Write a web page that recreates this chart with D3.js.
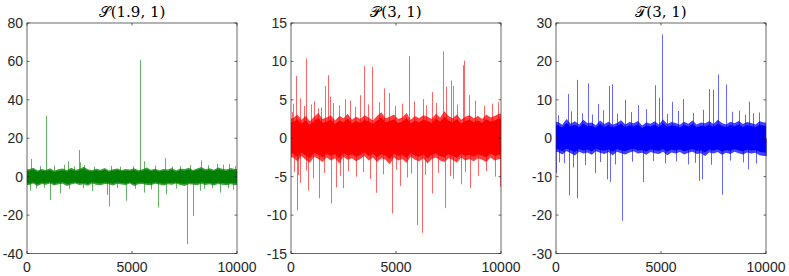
<!DOCTYPE html>
<meta charset="utf-8">
<head>
<style>
  body { margin: 0; background: #fff; }
  svg text { font-family: "Liberation Sans", Arial, sans-serif; }
</style>
</head>
<body>
<div id="chart"></div>
<script src="https://d3js.org/d3.v7.min.js"></script>
<script>
    // chart data
    let xTicks = [0, 5000, 10000];
    let xTickLabels = ['0', '5000', '10000'];
    let numSamples = 10000;

    let titles = ['\u{1D4AE}(1.9, 1)', '\u{1D4AB}(3, 1)', '\u{1D4AF}(3, 1)'];
    let colors = ['#007f00', '#ff0000', '#0000ff'];
    let yDomains = [[-40, 80], [-15, 15], [-30, 30]];
    let yTicks = [
        [-40, -20, 0, 20, 40, 60, 80],
        [-15, -10, -5, 0, 5, 10, 15],
        [-30, -20, -10, 0, 10, 20, 30]
    ];
    let yTickLabels = [
        ['-40', '-20', '0', '20', '40', '60', '80'],
        ['-15', '-10', '-5', '0', '5', '10', '15'],
        ['-30', '-20', '-10', '0', '10', '20', '30']
    ];

    // dense core of each series: upper / lower envelope, one value per 200 samples
    let p1Hi = [3.8,4.6,3.2,4.0,3.5,4.4,3.1,3.9,4.2,3.4,4.7,3.6,4.0,5.2,3.9,3.3,4.1,3.6,4.5,3.2,3.8,4.3,3.5,4.0,3.7,4.4,3.3,3.9,4.8,3.6,4.1,3.4,4.0,3.7,4.5,3.2,4.2,3.8,4.6,3.5,4.3,5.0,3.9,4.4,3.6,4.8,4.1,3.7,4.5,4.0];
    let p1Lo = [-4.4,-3.6,-4.9,-3.8,-4.2,-3.5,-4.6,-4.0,-3.7,-4.8,-4.1,-3.6,-4.3,-3.9,-4.7,-3.5,-4.2,-4.5,-3.8,-4.0,-4.6,-3.7,-4.1,-4.4,-3.6,-4.9,-4.0,-3.8,-4.3,-4.5,-3.7,-4.1,-4.6,-3.9,-4.2,-3.6,-4.4,-4.8,-3.9,-4.1,-4.5,-3.7,-4.3,-4.0,-4.6,-3.8,-4.2,-4.5,-3.9,-4.3];
    let p2Hi = [2.6,3.1,2.4,2.9,2.2,2.8,3.3,2.5,2.7,3.0,2.3,2.9,2.6,3.2,2.4,2.8,2.5,3.0,2.7,2.3,2.9,3.4,2.6,2.8,3.1,2.5,2.7,3.3,2.4,2.9,2.6,3.0,2.8,2.5,3.2,2.7,3.5,2.9,2.6,3.1,2.4,2.8,3.0,2.6,2.9,2.5,3.1,2.7,2.9,3.2];
    let p2Lo = [-2.5,-3.0,-2.3,-2.8,-3.2,-2.4,-2.7,-3.1,-2.5,-2.9,-2.6,-3.3,-2.4,-2.8,-2.6,-3.0,-2.7,-2.3,-2.9,-2.5,-3.1,-2.6,-2.8,-3.4,-2.5,-2.9,-2.7,-3.2,-2.4,-2.8,-3.0,-2.6,-3.3,-2.7,-2.5,-2.9,-3.1,-2.6,-2.8,-3.2,-2.5,-2.9,-2.7,-3.0,-2.6,-2.8,-3.1,-2.5,-2.9,-2.7];
    let p3Hi = [4.2,3.5,5.0,3.8,4.4,3.6,4.8,3.9,4.1,3.4,4.6,3.7,4.3,3.5,4.0,4.7,3.6,4.2,3.9,4.5,3.3,4.1,3.8,4.4,3.6,4.9,3.7,4.2,4.0,3.5,4.3,3.8,4.6,3.6,4.1,3.9,4.4,3.7,4.8,4.0,3.6,4.3,3.9,4.5,3.7,4.2,4.0,3.6,4.4,4.1];
    let p3Lo = [-3.6,-4.2,-3.3,-3.9,-4.5,-3.5,-4.0,-3.7,-4.3,-3.4,-3.8,-4.1,-3.6,-4.4,-3.5,-3.9,-4.2,-3.7,-3.4,-4.0,-3.8,-4.3,-3.6,-3.9,-4.1,-3.5,-4.4,-3.7,-4.0,-3.6,-4.2,-3.8,-3.5,-4.1,-3.9,-4.6,-3.7,-4.0,-3.6,-4.3,-3.8,-4.1,-3.5,-3.9,-4.2,-3.7,-4.0,-3.8,-4.4,-4.6];

    // excursions outside the core: [sample index, value]
    let p1Spikes = [
        [175,9.2],[890,31.6],[1940,8],[2460,13.9],[2530,7.5],[3210,5.2],[5390,60.8],[5580,8],[6570,9.7],[7300,5.5],[8270,8.5],[9050,6.6],[9620,6.6],
        [140,-7.3],[1100,-12.2],[1570,-8.7],[3080,-7.5],[3800,-9.5],[3910,-15.6],[4710,-12.5],[5550,-8.3],[6230,-16],[6630,-9.2],[7630,-35.2],[7900,-20.5],[8250,-7.3],[9200,-8.3],[9590,-6],
        [600,5.5],[1300,5.8],[1750,6.2],[2250,5.4],[2700,6],[4000,5.6],[4450,5.2],[5050,5.5],[6100,5.8],[6900,5.3],[7750,6.1],[8600,5.9],[9350,6.3],[9900,5.5],
        [450,-6.2],[800,-5.8],[2000,-6.5],[2650,-6],[4300,-5.9],[5150,-6.3],[5900,-6.6],[7100,-6.2],[8450,-6.4],[8800,-6],[9800,-6.8]
    ];
    let p2Spikes = [
        [30,3.4],[254,8.1],[430,5.2],[714,10.4],[937,4.4],[1300,3.9],[1635,6.8],[1780,8.2],[1840,5.4],[2555,5.1],[3290,5.6],[3476,9.4],[3873,9.3],[4413,6.5],[4680,5.9],[5600,10.7],[6286,5.1],[6730,6],[7220,11.3],[7370,6.7],[7620,7.5],[7710,6.8],[8175,9.5],[8254,10.1],[8476,5.6],[9873,4.7],
        [160,-4.4],[270,-9.4],[445,-5.8],[825,-6.8],[1333,-7.8],[1905,-8.5],[2143,-6.4],[2490,-6.5],[3746,-5.3],[4048,-7.1],[4810,-9.8],[5206,-6.2],[6000,-11.3],[6222,-12.3],[6714,-7.2],[7349,-9.1],[7556,-4.9],[8079,-6],[8540,-6.5],[9937,-6.3],
        [100,4.5],[600,4.2],[1100,4.8],[1450,4.0],[2000,4.6],[2300,4.3],[2800,4.9],[3050,4.1],[3650,4.4],[4200,4.7],[4950,4.2],[5300,4.5],[5850,4.8],[6450,4.3],[6900,4.6],[7900,4.4],[8750,4.9],[9200,4.2],[9550,4.5],
        [350,-4.8],[700,-4.2],[1050,-5.2],[1550,-4.5],[2350,-4.9],[2700,-4.3],[3100,-5.0],[3450,-4.4],[4400,-4.7],[5000,-4.1],[5500,-5.1],[5700,-4.6],[6400,-4.8],[7000,-4.5],[7700,-5.3],[8300,-4.4],[8900,-4.9],[9300,-4.3],[9700,-5.0]
    ];
    let p3Spikes = [
        [80,6],[590,11.5],[1000,15.2],[1520,14.3],[1984,8.9],[2540,13.6],[2667,14],[3300,10],[3900,8.6],[4730,13.8],[4900,10.5],[5048,27],[5500,9.5],[6060,10.2],[7270,12.8],[7490,12.6],[7730,16.6],[8080,14],[9206,9.5],[9670,6.7],
        [700,7],[1250,6.5],[1700,6.2],[2250,7.3],[2900,6.4],[3550,6.8],[4300,7.6],[5300,6.3],[5800,7.1],[6500,6.6],[7000,7.4],[8400,6.9],[8700,7.2],[9000,6.1],[9400,6.5],
        [10,-9],[160,-6.3],[619,-14.9],[1000,-15.6],[830,-7.6],[1841,-9.1],[2413,-10.7],[2571,-11.4],[3143,-21.5],[4159,-11.4],[6270,-6.8],[6810,-11.1],[6937,-10.7],[7905,-14.7],[9143,-8.1],[9990,-4.6],
        [400,-6.5],[1400,-7],[2100,-6.2],[2800,-6.8],[3600,-6.1],[4600,-5.9],[5200,-6.5],[5700,-6.0],[6600,-6.4],[7400,-6.9],[8300,-5.8],[8900,-6.3],[9500,-6.6]
    ];

    let coreHi = [p1Hi, p2Hi, p3Hi];
    let coreLo = [p1Lo, p2Lo, p3Lo];
    let spikes = [p1Spikes, p2Spikes, p3Spikes];

    // layout
    let svgWidth = 789, svgHeight = 276;
    let panelLeft = [27, 291, 556];
    let panelWidth = 210;
    let plotTop = 23, plotBottom = 253.5;
    let tickLen = 2.5;

    let svg = d3.select('#chart').append('svg')
        .attr('width', svgWidth)
        .attr('height', svgHeight);

    for (let p = 0; p < 3; p++) {
        let x = d3.scaleLinear().domain([0, numSamples]).range([panelLeft[p], panelLeft[p] + panelWidth]);
        let y = d3.scaleLinear().domain(yDomains[p]).range([plotBottom, plotTop]);
        let g = svg.append('g');
        let step = numSamples / coreHi[p].length;

        // core band
        let band = coreHi[p].map((v, i) => ({ i: i, hi: v, lo: coreLo[p][i] }));
        let bx = d => x(Math.min(Math.max(d.i * step + step / 2, 0), numSamples));
        // extend band to both edges
        let bandFull = [{ i: -0.5, hi: band[0].hi, lo: band[0].lo }].concat(band,
            [{ i: band.length - 0.5, hi: band[band.length - 1].hi, lo: band[band.length - 1].lo }]);
        g.append('path')
            .datum(bandFull)
            .attr('d', d3.area().x(bx).y0(d => y(d.lo)).y1(d => y(d.hi)))
            .attr('fill', colors[p])
            .attr('opacity', 0.75);
        g.append('path')
            .datum(bandFull)
            .attr('d', d3.area().x(bx).y0(d => y(d.lo * 0.8)).y1(d => y(d.hi * 0.8)))
            .attr('fill', colors[p]);

        // spikes
        g.selectAll('line.spike')
            .data(spikes[p])
            .enter()
            .append('line')
            .attr('class', 'spike')
            .attr('x1', d => Math.round(x(d[0])) + 0.5)
            .attr('x2', d => Math.round(x(d[0])) + 0.5)
            .attr('y1', y(0))
            .attr('y2', d => y(d[1]))
            .attr('stroke', colors[p])
            .attr('stroke-width', 1)
            .attr('opacity', 0.6);

        // axes box
        let x0 = panelLeft[p], x1 = panelLeft[p] + panelWidth;
        g.append('rect')
            .attr('x', x0).attr('y', plotTop)
            .attr('width', panelWidth).attr('height', plotBottom - plotTop)
            .attr('fill', 'none')
            .attr('stroke', '#262626')
            .attr('stroke-width', 0.7);

        // y ticks (inward, both sides)
        yTicks[p].forEach((t, k) => {
            let yy = y(t);
            g.append('line').attr('x1', x0).attr('x2', x0 + tickLen).attr('y1', yy).attr('y2', yy)
                .attr('stroke', '#262626').attr('stroke-width', 0.7);
            g.append('line').attr('x1', x1).attr('x2', x1 - tickLen).attr('y1', yy).attr('y2', yy)
                .attr('stroke', '#262626').attr('stroke-width', 0.7);
            g.append('text')
                .attr('x', x0 - 4)
                .attr('y', yy + 5)
                .attr('text-anchor', 'end')
                .attr('font-size', 14)
                .attr('fill', '#262626')
                .text(yTickLabels[p][k]);
        });

        // x ticks
        xTicks.forEach((t, k) => {
            let xx = x(t);
            g.append('line').attr('x1', xx).attr('x2', xx).attr('y1', plotBottom).attr('y2', plotBottom - tickLen)
                .attr('stroke', '#262626').attr('stroke-width', 0.7);
            g.append('line').attr('x1', xx).attr('x2', xx).attr('y1', plotTop).attr('y2', plotTop + tickLen)
                .attr('stroke', '#262626').attr('stroke-width', 0.7);
            g.append('text')
                .attr('x', xx)
                .attr('y', 272)
                .attr('text-anchor', 'middle')
                .attr('font-size', 14)
                .attr('fill', '#262626')
                .text(xTickLabels[k]);
        });

        // title
        g.append('text')
            .attr('x', (x0 + x1) / 2)
            .attr('y', 17)
            .attr('text-anchor', 'middle')
            .attr('font-size', 15)
            .style('font-family', '"DejaVu Serif", "Liberation Serif", serif')
            .attr('fill', '#000')
            .text(titles[p]);
    }
</script>
</body>
